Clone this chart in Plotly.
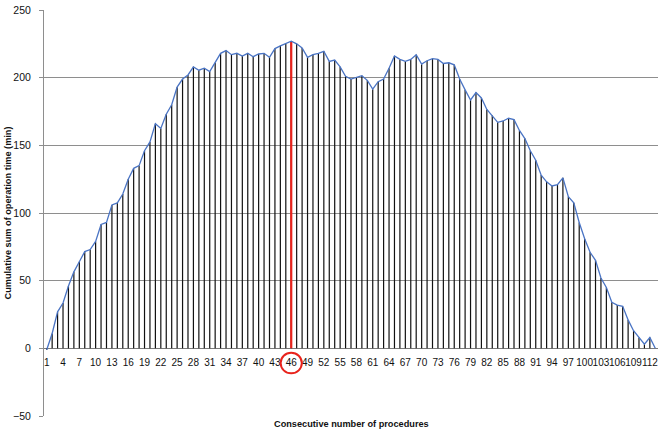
import plotly.graph_objects as go

procedures = list(range(1, 114))
cusum = [-1, 11, 27, 33.5, 46, 56.5, 64, 71.5, 73, 79,
         91.5, 93, 106, 107.5, 114, 125, 133, 135, 146, 152.5,
         166, 162.5, 173, 180, 193, 199, 202, 208, 205.5, 207,
         204.5, 211, 218, 220, 217, 218, 216, 218, 215.5, 217.5,
         218, 215, 221.5, 223.5, 225, 227, 225, 222, 215, 217,
         218, 219.5, 212, 213, 208, 201, 199, 200, 201.5, 198,
         191.5, 197, 199, 207, 216, 213.5, 212, 213.5, 217, 210,
         212.5, 214, 213.5, 210.5, 211, 209.5, 199, 191, 183.5, 189,
         185, 176.5, 172, 167, 168, 170, 169, 161, 155, 146,
         139, 128, 123, 120, 121, 126, 112, 107.5, 93, 81,
         71, 65, 52, 45, 34, 32, 31, 21, 13, 8,
         3, 8, 0]
highlight = 46
tick_vals = list(range(1, 113, 3))
tick_text = [str(v) for v in tick_vals]
y_ticks = [-50, 0, 50, 100, 150, 200, 250]

drop_x, drop_y = [], []
for xv, yv in zip(procedures, cusum):
    drop_x += [xv, xv, None]
    drop_y += [0, yv, None]

fig = go.Figure()
fig.add_trace(go.Scatter(x=drop_x, y=drop_y, mode="lines",
                         line=dict(color="#111111", width=1.2),
                         hoverinfo="skip", showlegend=False))
hi_val = cusum[procedures.index(highlight)]
fig.add_trace(go.Scatter(x=[highlight, highlight], y=[0, hi_val], mode="lines",
                         line=dict(color="#e8231c", width=2.2),
                         showlegend=False))
fig.add_trace(go.Scatter(x=procedures, y=cusum, mode="lines",
                         line=dict(color="#4a74c4", width=1.3),
                         showlegend=False))

fig.add_shape(type="circle", xref="x", yref="y",
              x0=highlight - 1.95, x1=highlight + 1.95, y0=-18.5, y1=-3.3,
              line=dict(color="#e8231c", width=2))

fig.add_annotation(text="<b>Consecutive number of procedures</b>",
                   xref="paper", yref="paper", x=0.5, y=0, yshift=-8,
                   yanchor="middle", showarrow=False,
                   font=dict(family="Liberation Sans", size=9.2, color="#111111"))
fig.add_annotation(text="<b>Cumulative sum of operation time (min)</b>",
                   xref="paper", yref="paper", x=0, y=0.5, xshift=-36.5,
                   xanchor="center", yanchor="middle", textangle=-90,
                   showarrow=False,
                   font=dict(family="Liberation Sans", size=9.2, color="#111111"))

fig.update_layout(
    width=669, height=442,
    margin=dict(l=44, r=11, t=10, b=26),
    paper_bgcolor="white", plot_bgcolor="white",
    font=dict(family="Liberation Sans", size=10, color="#111111"),
    xaxis=dict(range=[0.5, 113.5], tickvals=tick_vals, ticktext=tick_text,
               showgrid=False, zeroline=False, showline=False,
               anchor="free", position=50 / 300, ticks="", tickangle=0,
               automargin=False,
               tickfont=dict(size=10), ticklabelstandoff=7),
    yaxis=dict(range=[-50, 250], tickvals=y_ticks, showgrid=True,
               gridcolor="#8e8e8e", gridwidth=1, automargin=False,
               zeroline=True, zerolinecolor="#7a7a7a", zerolinewidth=1,
               showline=True, linecolor="#8e8e8e", linewidth=1,
               ticks="outside", ticklen=4, tickcolor="#8e8e8e",
               ticklabelstandoff=6, tickfont=dict(size=10.5)),
)

fig.write_html("out.html", config={"displayModeBar": False},
               post_script="document.body.style.margin='0px';")
